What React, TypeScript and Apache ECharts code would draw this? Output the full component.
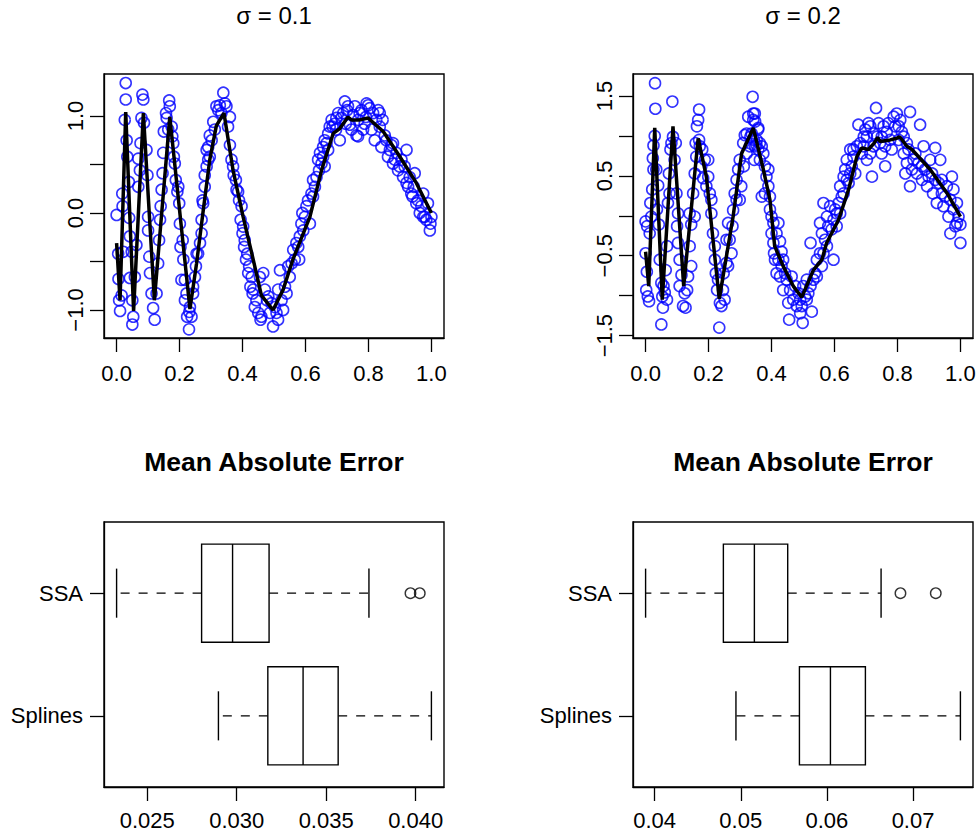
import React, { useEffect, useRef } from "react";
import * as echarts from "echarts";

const FONT = '"Liberation Sans", Arial, Helvetica, sans-serif';

// ---- top-left panel: sigma = 0.1 ----
const sigma1Title = "σ = 0.1";
const noisy01Points: number[][] = [
  [0.000,-0.02],[0.005,-0.42],[0.006,-0.68],[0.008,-0.90],[0.011,-1.01],[0.016,-0.85],[0.019,0.07],[0.018,0.20],[0.021,-0.40],[0.026,0.96],[0.029,1.34],[0.029,1.17],[0.032,0.75],[0.034,0.58],[0.039,0.32],[0.040,-0.05],[0.042,-0.24],[0.048,-0.40],[0.042,-0.67],[0.050,-0.90],[0.053,-1.07],[0.050,-1.15],[0.058,-0.66],[0.063,-0.33],[0.069,0.27],[0.069,0.56],[0.074,0.44],[0.076,0.72],[0.079,0.98],[0.082,1.22],[0.085,1.17],[0.087,0.93],[0.095,0.65],[0.098,0.39],[0.100,-0.04],[0.100,-0.18],[0.104,-0.45],[0.106,-0.62],[0.111,-0.83],[0.116,-0.98],[0.121,-1.10],[0.127,-0.83],[0.132,-0.52],[0.135,-0.28],[0.138,-0.07],[0.140,0.07],[0.143,0.24],[0.146,0.41],[0.148,0.62],[0.150,0.84],[0.157,1.03],[0.167,1.16],[0.169,1.10],[0.175,0.89],[0.180,0.72],[0.185,0.51],[0.193,0.22],[0.199,0.10],[0.201,-0.11],[0.210,-0.28],[0.212,-0.48],[0.217,-0.69],[0.222,-0.83],[0.231,-1.02],[0.230,-1.20],[0.238,-1.07],[0.243,-0.83],[0.252,-0.55],[0.259,-0.42],[0.270,-0.21],[0.275,0.10],[0.280,0.27],[0.286,0.48],[0.291,0.68],[0.296,0.80],[0.307,0.94],[0.317,1.10],[0.339,1.24],[0.333,1.03],[0.344,1.13],[0.354,0.89],[0.360,0.70],[0.370,0.48],[0.379,0.34],[0.386,0.22],[0.397,0.07],[0.402,-0.14],[0.407,-0.28],[0.415,-0.42],[0.421,-0.55],[0.429,-0.66],[0.434,-0.79],[0.444,-0.90],[0.457,-1.10],
  [0.455,-0.66],[0.466,-0.62],[0.460,-1.07],[0.478,-0.90],[0.487,-1.03],[0.497,-1.17],[0.503,-0.97],[0.513,-0.79],[0.519,-0.59],[0.529,-1.00],[0.535,-0.76],[0.545,-0.55],[0.556,-0.52],[0.561,-0.38],[0.571,-0.31],[0.580,-0.48],[0.582,-0.24],[0.593,-0.18],[0.598,-0.04],[0.603,0.07],[0.614,-0.11],[0.624,0.17],[0.630,0.27],[0.635,0.37],[0.643,0.44],[0.651,0.51],[0.656,0.58],[0.661,0.48],[0.656,0.68],[0.667,0.72],[0.677,0.89],[0.683,0.96],[0.693,0.92],[0.704,1.03],[0.709,0.75],[0.714,0.98],[0.725,1.15],[0.732,1.06],[0.741,0.91],[0.751,1.01],[0.762,0.80],[0.767,0.96],[0.778,1.06],[0.788,0.92],[0.794,1.13],[0.804,1.08],[0.810,0.86],[0.820,0.75],[0.825,0.96],[0.836,1.03],[0.841,0.68],[0.852,0.80],[0.862,0.58],[0.873,0.70],[0.878,0.51],[0.889,0.62],[0.899,0.48],[0.910,0.37],[0.921,0.65],[0.926,0.27],[0.936,0.20],[0.947,0.41],[0.952,0.10],[0.963,0.00],[0.974,0.20],[0.979,-0.04],[0.989,0.10],[0.995,-0.18],[1.000,-0.04],
  [0.323,1.06],[0.328,1.11],[0.349,1.10],[0.360,0.99],[0.312,0.86],[0.302,0.75],[0.291,0.55],[0.280,0.39],[0.286,0.65],[0.296,0.58],[0.273,0.13],[0.270,-0.07],[0.265,-0.31],[0.254,-0.42],[0.249,-0.66],[0.243,-0.76],[0.233,-0.97],[0.224,-1.07],[0.217,-0.90],[0.206,-0.69],[0.203,-0.35],[0.196,0.27],[0.188,0.34],[0.182,0.58],[0.177,0.79],[0.164,0.86],[0.159,0.98],
  [0.365,0.55],[0.372,0.39],[0.381,0.24],[0.389,0.13],[0.394,-0.07],[0.400,-0.21],[0.405,-0.35],[0.411,-0.48],[0.418,-0.62],[0.425,-0.76],[0.432,-0.83],[0.439,-0.97],[0.450,-1.03],
  [0.471,-0.79],[0.482,-0.86],[0.492,-0.93],[0.508,-1.03],[0.513,-1.10],[0.524,-0.90],[0.540,-0.83],[0.550,-0.66],[0.566,-0.48],[0.577,-0.35],
  [0.587,-0.11],[0.590,0.00],[0.608,0.13],[0.619,0.20],[0.624,0.34],[0.640,0.55],[0.646,0.62],[0.661,0.75],[0.672,0.82],[0.672,0.65],[0.686,0.89],[0.697,0.86],
  [0.698,0.98],[0.720,1.03],[0.728,0.92],[0.735,1.10],[0.746,0.86],[0.757,1.10],[0.767,0.79],[0.772,1.03],[0.783,0.86],[0.792,0.99],[0.799,1.11],[0.815,1.03],[0.831,1.06],[0.836,0.89],[0.845,0.96],
  [0.857,0.75],[0.868,0.65],[0.878,0.72],[0.884,0.55],[0.894,0.44],[0.905,0.55],[0.915,0.48],[0.921,0.31],[0.931,0.37],[0.940,0.17],[0.944,0.27],[0.957,0.13],[0.968,0.07],[0.974,-0.04],[0.984,-0.07],[0.997,-0.11],
];
const fit01Line: number[][] = [
  [0.000,-0.31],[0.011,-0.90],[0.029,1.04],[0.054,-1.01],[0.085,1.03],[0.120,-0.90],[0.169,0.99],[0.233,-0.99],[0.254,-0.52],[0.275,0.02],[0.296,0.55],[0.317,0.90],[0.341,1.03],[0.370,0.44],[0.402,-0.04],[0.434,-0.48],[0.460,-0.85],[0.497,-1.00],[0.529,-0.79],[0.560,-0.48],[0.614,-0.04],[0.651,0.44],[0.688,0.82],[0.709,0.87],[0.735,0.99],[0.746,0.96],[0.772,0.96],[0.799,0.98],[0.847,0.84],[0.900,0.58],[0.952,0.31],[1.000,0.00],
];
const top1YTicks = [-1, -0.5, 0, 0.5, 1];
const top1YLabels = [-1, 0, 1];

// ---- top-right panel: sigma = 0.2 ----
const sigma2Title = "σ = 0.2";
const noisy02Points: number[][] = [
  [0.000,-0.07],[0.000,-0.47],[0.004,-0.70],[0.002,-0.93],[0.007,-1.01],[0.011,-1.07],[0.013,-0.22],[0.015,0.16],[0.018,-0.01],[0.021,0.33],[0.023,0.72],[0.025,0.88],[0.029,1.00],[0.030,1.66],[0.031,1.34],[0.034,0.58],[0.040,0.38],[0.042,-0.11],[0.045,-0.55],[0.050,-0.84],[0.053,-1.01],[0.055,-1.15],[0.050,-1.36],[0.061,-0.96],[0.064,-0.68],[0.068,-0.38],[0.071,0.16],[0.074,0.53],[0.079,0.83],[0.085,1.43],[0.087,0.99],[0.092,0.70],[0.098,0.28],[0.100,-0.13],[0.103,-0.34],[0.108,-0.55],[0.114,-0.74],[0.119,-1.13],[0.127,-1.15],[0.132,-0.93],[0.135,-0.76],[0.140,-0.38],[0.145,-0.11],[0.140,0.03],[0.151,0.28],[0.156,0.53],[0.161,0.74],[0.163,1.12],[0.167,1.20],[0.170,1.33],[0.172,0.87],[0.177,0.62],[0.183,0.47],[0.193,0.37],[0.199,0.70],[0.204,0.28],[0.209,0.03],[0.214,-0.22],[0.220,-0.38],[0.223,-0.72],[0.227,-0.93],[0.236,-1.09],[0.234,-1.40],[0.241,-1.13],[0.246,-0.93],[0.248,-0.72],[0.257,-0.59],[0.257,-0.30],[0.262,-0.09],[0.273,-0.47],[0.278,0.07],[0.283,0.28],[0.289,0.45],[0.294,0.58],[0.299,0.70],[0.299,0.20],[0.310,0.91],[0.315,1.01],[0.321,0.78],[0.326,1.24],[0.333,0.99],[0.340,1.49],[0.342,1.20],[0.347,1.28],[0.352,0.89],[0.358,1.10],
  [0.342,1.28],[0.348,1.18],[0.353,0.95],[0.358,0.83],[0.363,0.70],[0.369,0.87],[0.379,0.62],[0.384,0.49],[0.379,0.28],[0.390,0.37],[0.395,0.24],[0.395,0.08],[0.400,-0.01],[0.406,-0.09],[0.422,-0.09],[0.406,-0.34],[0.416,-0.22],[0.427,-0.32],[0.432,-0.45],[0.437,-0.55],[0.411,-0.55],[0.416,-0.72],[0.427,-0.76],[0.437,-0.93],[0.448,-0.80],[0.459,-0.93],[0.453,-1.09],[0.456,-1.30],[0.469,-1.05],[0.480,-1.13],[0.491,-1.22],[0.499,-1.34],[0.496,-1.13],[0.507,-1.01],[0.512,-0.80],[0.524,-0.88],[0.528,-1.20],[0.524,-0.34],[0.538,-0.72],[0.544,-0.55],[0.554,-0.47],[0.554,-0.09],[0.560,-0.22],[0.565,0.16],[0.570,-0.30],[0.576,-0.01],[0.580,-0.13],[0.586,0.12],[0.597,-0.55],[0.602,0.08],[0.607,-0.13],[0.613,0.16],[0.618,0.37],[0.623,0.24],[0.629,0.49],[0.634,0.58],[0.639,0.70],[0.645,0.41],[0.650,0.83],[0.655,0.62],[0.660,0.74],[0.666,0.53],[0.676,1.14],[0.682,0.91],[0.693,0.99],[0.698,1.08],[0.703,0.70],[0.708,1.16],[0.714,0.78],[0.719,0.49],[0.724,1.03],[0.732,1.35],[0.740,1.16],[0.745,0.91],[0.750,0.78],[0.756,1.12],[0.761,0.62],[0.766,1.05],[0.777,0.95],[0.788,1.24],[0.798,1.28],[0.804,1.12],[0.814,1.05],[0.820,0.78],[0.825,0.53],[0.830,0.91],[0.840,1.30],[0.840,0.37],[0.851,0.70],[0.862,0.53],[0.872,1.14],[0.878,0.45],[0.883,0.87],[0.894,0.37],[0.904,0.70],[0.913,0.28],[0.920,0.85],[0.925,0.16],[0.936,0.70],[0.941,0.28],[0.946,0.12],[0.957,0.37],[0.962,-0.01],[0.973,0.49],[0.968,-0.22],[0.978,0.33],[0.984,-0.13],[0.989,0.16],[0.994,-0.01],[1.000,-0.34],[1.000,-0.11],
  [0.337,1.03],[0.348,0.87],[0.358,1.08],[0.363,0.91],[0.345,0.70],[0.374,0.78],[0.390,0.58],[0.369,0.24],[0.400,-0.22],[0.408,-0.47],[0.422,-0.55],[0.432,-0.63],[0.443,-0.72],[0.464,-0.76],[0.475,-0.88],[0.486,-0.97],[0.491,-1.05],[0.501,-0.88],[0.512,-1.05],[0.517,-0.97],[0.533,-0.80],[0.544,-0.76],[0.560,-0.63],[0.565,-0.47],[0.576,-0.38],[0.591,-0.17],[0.597,-0.05],[0.607,0.03],[0.618,0.03],[0.629,0.28],[0.639,0.45],[0.650,0.53],[0.660,0.83],[0.671,0.87],[0.687,0.78],[0.693,0.87],[0.703,0.99],[0.714,1.12],[0.724,0.87],[0.735,0.99],[0.750,0.99],[0.761,0.87],[0.771,1.16],[0.782,0.83],[0.793,1.12],[0.804,0.95],[0.809,1.20],[0.820,0.99],[0.830,0.66],[0.835,0.83],[0.846,0.58],[0.857,0.78],[0.867,0.66],[0.878,0.62],[0.888,0.58],[0.899,0.49],[0.910,0.53],[0.920,0.45],[0.931,0.41],[0.941,0.45],[0.951,0.24],[0.968,0.20],[0.978,0.08],[0.989,-0.09],
  [0.005,-0.13],[0.025,0.58],[0.036,0.08],[0.057,-0.88],[0.068,-1.05],[0.076,0.28],[0.082,0.91],[0.096,0.91],[0.103,0.03],[0.108,-0.88],[0.124,-0.97],[0.145,-0.63],[0.156,-0.01],[0.159,0.91],[0.170,0.95],[0.180,0.83],[0.188,0.70],[0.199,0.49],[0.209,0.20],[0.220,-0.55],[0.230,-0.80],[0.251,-1.05],[0.262,-0.63],[0.267,-0.30],[0.276,-0.13],[0.289,0.20],[0.304,0.37],[0.312,0.62],[0.321,1.03],[0.331,0.87],[0.344,0.95],
];
const fit02Line: number[][] = [
  [0.000,-0.45],[0.010,-0.88],[0.029,1.10],[0.053,-1.05],[0.087,1.12],[0.121,-0.88],[0.167,0.97],[0.193,0.49],[0.234,-1.04],[0.278,-0.01],[0.305,0.78],[0.342,1.10],[0.374,0.58],[0.395,0.20],[0.410,-0.38],[0.437,-0.63],[0.469,-0.88],[0.496,-1.02],[0.533,-0.68],[0.560,-0.55],[0.575,-0.34],[0.613,-0.05],[0.645,0.33],[0.671,0.74],[0.687,0.85],[0.708,0.83],[0.726,0.91],[0.737,0.98],[0.745,0.93],[0.777,0.95],[0.798,0.97],[0.807,0.99],[0.830,0.87],[0.846,0.83],[0.904,0.58],[0.958,0.28],[1.000,-0.01],
];
const top2YTicks = [-1.5, -1, -0.5, 0, 0.5, 1, 1.5];
const top2YLabels = [-1.5, -0.5, 0.5, 1.5];

const topXTicks = [0, 0.2, 0.4, 0.6, 0.8, 1.0];

// ---- bottom panels: Mean Absolute Error boxplots ----
const maeTitle = "Mean Absolute Error";
const boxGroups = ["Splines", "SSA"]; // positions 1, 2 (bottom to top)
// [low whisker, Q1, median, Q3, high whisker]
const mae01SSA = [0.02329, 0.02804, 0.02977, 0.03181, 0.03739];
const mae01Splines = [0.02898, 0.03174, 0.03371, 0.03567, 0.04088];
const mae01SSAOutliers = [0.03971, 0.04023];
const mae01Splinesoutliers: number[] = [];
const mae02SSA = [0.03895, 0.04798, 0.05158, 0.05545, 0.06629];
const mae02Splines = [0.04944, 0.05681, 0.06041, 0.06447, 0.07550];
const mae02SSAOutliers = [0.06854, 0.07264];
const mae02Splinesoutliers: number[] = [];
const bottom1XTicks = [0.025, 0.030, 0.035, 0.040];
const bottom2XTicks = [0.04, 0.05, 0.06, 0.07];

const minus = (s: string) => s.replace("-", "\u2212");

function App() {
  const ref = useRef<HTMLDivElement>(null);
  useEffect(() => {
    if (!ref.current) return;
    const chart = echarts.init(ref.current, null, { renderer: "svg" });

    const axisCommon = {
      axisLine: { show: true, onZero: false, lineStyle: { color: "#000", width: 1.3 } },
      splitLine: { show: false },
    };
    const tickStyle = { color: "#000", width: 1.3 };
    const labelStyle = { color: "#000", fontSize: 22, fontFamily: FONT };

    const xTop = (gi: number) => ({
      ...axisCommon,
      gridIndex: gi,
      type: "value",
      min: -0.04,
      max: 1.04,
      axisTick: { show: true, customValues: topXTicks, length: 14, lineStyle: tickStyle },
      axisLabel: { ...labelStyle, customValues: topXTicks, margin: 24, formatter: (v: number) => v.toFixed(1) },
    });
    const yTop = (gi: number, min: number, max: number, ticks: number[], labels: number[]) => ({
      ...axisCommon,
      gridIndex: gi,
      type: "value",
      min,
      max,
      axisTick: { show: true, customValues: ticks, length: 14, lineStyle: tickStyle },
      axisLabel: { ...labelStyle, customValues: labels, rotate: 90, margin: 18, formatter: (v: number) => minus(v.toFixed(1)) },
    });

    const range = (arrs: number[][]) => {
      const all = arrs.flat();
      const lo = Math.min(...all), hi = Math.max(...all);
      const pad = (hi - lo) * 0.04;
      return [lo - pad, hi + pad];
    };
    const r1 = range([mae01SSA, mae01Splines, mae01SSAOutliers, mae01Splinesoutliers]);
    const r2 = range([mae02SSA, mae02Splines, mae02SSAOutliers, mae02Splinesoutliers]);

    const xBottom = (gi: number, r: number[], ticks: number[], dec: number) => ({
      ...axisCommon,
      gridIndex: gi,
      type: "value",
      min: r[0],
      max: r[1],
      axisTick: { show: true, customValues: ticks, length: 14, lineStyle: tickStyle },
      axisLabel: { ...labelStyle, customValues: ticks, margin: 22, formatter: (v: number) => v.toFixed(dec) },
    });
    const yBottom = (gi: number) => ({
      ...axisCommon,
      gridIndex: gi,
      type: "value",
      min: 0.42,
      max: 2.58,
      axisTick: { show: true, customValues: [1, 2], length: 14, lineStyle: tickStyle },
      axisLabel: { ...labelStyle, customValues: [1, 2], margin: 21, formatter: (v: number) => boxGroups[Math.round(v) - 1] },
    });

    const renderBox = (params: any, api: any) => {
      const pos = api.value(0);
      const lo = api.value(1), q1 = api.value(2), med = api.value(3), q3 = api.value(4), hi = api.value(5);
      const pLo = api.coord([lo, pos]);
      const pQ1 = api.coord([q1, pos]);
      const pMed = api.coord([med, pos]);
      const pQ3 = api.coord([q3, pos]);
      const pHi = api.coord([hi, pos]);
      const halfH = api.size([0, 0.4])[1];
      const capH = api.size([0, 0.2])[1];
      const cy = pMed[1];
      const solid = { stroke: "#000", lineWidth: 1.4, fill: "none" };
      const dashed = { stroke: "#000", lineWidth: 1.4, lineDash: [9, 9] };
      return {
        type: "group",
        children: [
          { type: "line", shape: { x1: pQ1[0], y1: cy, x2: pLo[0], y2: cy }, style: dashed },
          { type: "line", shape: { x1: pQ3[0], y1: cy, x2: pHi[0], y2: cy }, style: dashed },
          { type: "line", shape: { x1: pLo[0], y1: cy - capH, x2: pLo[0], y2: cy + capH }, style: solid },
          { type: "line", shape: { x1: pHi[0], y1: cy - capH, x2: pHi[0], y2: cy + capH }, style: solid },
          { type: "rect", shape: { x: pQ1[0], y: cy - halfH, width: pQ3[0] - pQ1[0], height: 2 * halfH }, style: { stroke: "#000", lineWidth: 1.4, fill: "#fff" } },
          { type: "line", shape: { x1: pMed[0], y1: cy - halfH, x2: pMed[0], y2: cy + halfH }, style: solid },
        ],
      };
    };

    const boxData = (ssa: number[], spl: number[]) => [
      [2, ...ssa],
      [1, ...spl],
    ];
    const outlierData = (ssaOut: number[], splOut: number[]) => [
      ...ssaOut.map((v) => [v, 2]),
      ...splOut.map((v) => [v, 1]),
    ];

    const gridCommon = { show: true, borderColor: "#000", borderWidth: 1.4, backgroundColor: "transparent", containLabel: false, outerBoundsMode: "none" };

    const scatterStyle = {
      type: "scatter",
      symbol: "circle",
      symbolSize: 11,
      itemStyle: { color: "rgba(0,0,0,0)", borderColor: "#0000ff", borderWidth: 1.6 },
      z: 2,
      silent: true,
    };
    const lineStyle = {
      type: "line",
      showSymbol: false,
      symbol: "none",
      lineStyle: { color: "#000", width: 3.5 },
      z: 3,
      silent: true,
    };

    chart.setOption({
      animation: false,
      grid: [
        { ...gridCommon, left: 104, top: 74, width: 340, height: 264 },
        { ...gridCommon, left: 633, top: 74, width: 340, height: 264 },
        { ...gridCommon, left: 104, top: 522, width: 340, height: 265 },
        { ...gridCommon, left: 633, top: 522, width: 340, height: 265 },
      ],
      xAxis: [
        xTop(0),
        xTop(1),
        xBottom(2, r1, bottom1XTicks, 3),
        xBottom(3, r2, bottom2XTicks, 2),
      ],
      yAxis: [
        yTop(0, -1.289, 1.433, top1YTicks, top1YLabels),
        yTop(1, -1.53, 1.775, top2YTicks, top2YLabels),
        yBottom(2),
        yBottom(3),
      ],
      series: [
        { ...scatterStyle, xAxisIndex: 0, yAxisIndex: 0, data: noisy01Points },
        { ...lineStyle, xAxisIndex: 0, yAxisIndex: 0, data: fit01Line },
        { ...scatterStyle, xAxisIndex: 1, yAxisIndex: 1, data: noisy02Points },
        { ...lineStyle, xAxisIndex: 1, yAxisIndex: 1, data: fit02Line },
        {
          type: "custom", xAxisIndex: 2, yAxisIndex: 2, renderItem: renderBox,
          encode: { x: [1, 2, 3, 4, 5], y: 0 }, data: boxData(mae01SSA, mae01Splines), silent: true,
        },
        {
          type: "scatter", xAxisIndex: 2, yAxisIndex: 2, symbol: "circle", symbolSize: 10.5,
          itemStyle: { color: "rgba(0,0,0,0)", borderColor: "#000", borderWidth: 1.4 },
          data: outlierData(mae01SSAOutliers, mae01Splinesoutliers), silent: true,
        },
        {
          type: "custom", xAxisIndex: 3, yAxisIndex: 3, renderItem: renderBox,
          encode: { x: [1, 2, 3, 4, 5], y: 0 }, data: boxData(mae02SSA, mae02Splines), silent: true,
        },
        {
          type: "scatter", xAxisIndex: 3, yAxisIndex: 3, symbol: "circle", symbolSize: 10.5,
          itemStyle: { color: "rgba(0,0,0,0)", borderColor: "#000", borderWidth: 1.4 },
          data: outlierData(mae02SSAOutliers, mae02Splinesoutliers), silent: true,
        },
      ],
      graphic: [
        { type: "text", x: 274, y: 15, style: { text: sigma1Title, fontSize: 24, fontFamily: FONT, fill: "#000", align: "center", verticalAlign: "middle" } },
        { type: "text", x: 803, y: 15, style: { text: sigma2Title, fontSize: 24, fontFamily: FONT, fill: "#000", align: "center", verticalAlign: "middle" } },
        { type: "text", x: 274, y: 462, style: { text: maeTitle, fontSize: 26.5, fontWeight: "bold", fontFamily: FONT, fill: "#000", align: "center", verticalAlign: "middle" } },
        { type: "text", x: 803, y: 462, style: { text: maeTitle, fontSize: 26.5, fontWeight: "bold", fontFamily: FONT, fill: "#000", align: "center", verticalAlign: "middle" } },
      ],
    } as any);

    return () => chart.dispose();
  }, []);

  return (
    <div
      ref={ref}
      style={{ position: "absolute", left: 0, top: 0, width: 980, height: 839, background: "#fff" }}
    />
  );
}

export default App;
